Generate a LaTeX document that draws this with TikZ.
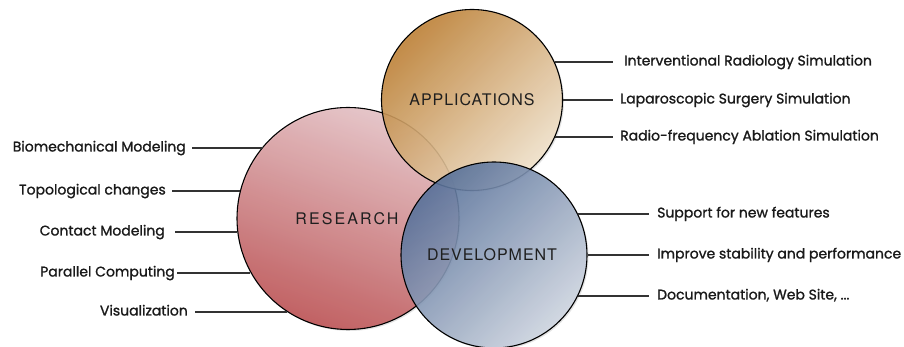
\documentclass[tikz,border=0pt]{standalone}
\usepackage{fontspec}
\setmainfont{Poppins}[FakeBold=1.2]
\newfontfamily\sidefont{Poppins}[FakeBold=1.2]
\newfontfamily\capfont[LetterSpace=6]{TeX Gyre Heros}
\newfontfamily\capfontw[LetterSpace=13]{TeX Gyre Heros}
\usetikzlibrary{shadows,calc}
\definecolor{apptop}{HTML}{BE8033}
\definecolor{appbot}{HTML}{F2E3CC}
\definecolor{restop}{HTML}{E6C2C6}
\definecolor{resbot}{HTML}{BD5052}
\definecolor{devtop}{HTML}{56709A}
\definecolor{devbot}{HTML}{D0D7E2}
\definecolor{linecol}{HTML}{333333}
\definecolor{txtcol}{HTML}{1A1A1A}
\begin{document}
\begin{tikzpicture}[x=1pt,y=1pt,
  venn/.style={circle, draw=black, line width=1.1pt, inner sep=0pt, fill opacity=0.88,
    drop shadow={shadow xshift=1.5pt, shadow yshift=-1.5pt, opacity=0.22}},
  side/.style={font=\sidefont\fontsize{14}{16}\selectfont, text=txtcol, inner sep=0pt,
    text height=0.7em, text depth=0pt},
  conn/.style={draw=linecol, line width=1.2pt},
  caps/.style={text=black!88, inner sep=0pt}]
\useasboundingbox (0,0) rectangle (904,347);

% circles
\node[venn, minimum size=222pt, top color=restop, bottom color=resbot, shading angle=-20] (res) at (348,128.5) {};
\node[venn, minimum size=181pt, top color=apptop, bottom color=appbot, shading angle=45] (app) at (472,247) {};
\node[venn, minimum size=186pt, top color=devtop, bottom color=devbot, shading angle=45] (dev) at (494,92) {};

% circle titles
\node[caps, font=\capfont\fontsize{16}{18}\selectfont] (tapp) at (472,247) {APPLICATIONS};
\node[caps, font=\capfontw\fontsize{16}{18}\selectfont] (tres) at (347,128) {RESEARCH};
\node[caps, font=\capfont\fontsize{16}{18}\selectfont] (tdev) at (492,92) {DEVELOPMENT};

% left labels (research)
\node[side, anchor=east] (l1) at (186,199) {Biomechanical Modeling};
\node[side, anchor=east] (l2) at (166,156) {Topological changes};
\node[side, anchor=east] (l3) at (165,115) {Contact Modeling};
\node[side, anchor=east] (l4) at (175,74) {Parallel Computing};
\node[side, anchor=east] (l5) at (188,35) {Visualization};
\draw[conn, shorten >=6pt] (res.140.57 |- l1.east) -- (l1.east);
\draw[conn, shorten >=6pt] (res.165.66 |- l2.east) -- (l2.east);
\draw[conn, shorten >=10pt] (res.186.99 |- l3.east) -- (l3.east);
\draw[conn, shorten >=2pt] (res.209.41 |- l4.east) -- (l4.east);
\draw[conn, shorten >=7pt] (res.237.39 |- l5.east) -- (l5.east);

% right labels (applications)
\node[side, anchor=west] (a1) at (624,285) {Interventional Radiology Simulation};
\node[side, anchor=west] (a2) at (620,247) {Laparoscopic Surgery Simulation};
\node[side, anchor=west] (a3) at (620,210) {Radio-frequency Ablation Simulation};
\draw[conn, shorten >=11pt] (app.24.83 |- a1.west) -- (a1.west);
\draw[conn, shorten >=7pt] (app.0 |- a2.west) -- (a2.west);
\draw[conn, shorten >=7pt] (app.-24.13 |- a3.west) -- (a3.west);

% right labels (development)
\node[side, anchor=west] (d1) at (657,133) {Support for new features};
\node[side, anchor=west] (d2) at (657,92) {Improve stability and performance};
\node[side, anchor=west] (d3) at (657,51) {Documentation, Web Site, ...};
\draw[conn, shorten >=8pt] (dev.26.16 |- d1.west) -- (d1.west);
\draw[conn, shorten >=8pt] (dev.0 |- d2.west) -- (d2.west);
\draw[conn, shorten >=8pt] (dev.-26.16 |- d3.west) -- (d3.west);
\end{tikzpicture}
\end{document}
